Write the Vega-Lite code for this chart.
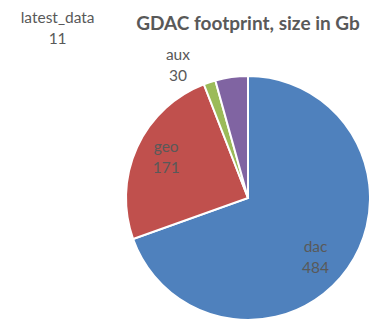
{
  "$schema": "https://vega.github.io/schema/vega-lite/v6.json",
  "autosize": {"type": "none"},
  "width": 248,
  "height": 244,
  "padding": {"left": 124, "top": 76, "right": 0, "bottom": 0},
  "background": "white",
  "title": {
    "text": "GDAC footprint, size in Gb",
    "anchor": "middle",
    "frame": "group",
    "offset": -23,
    "font": "Lato",
    "fontSize": 19,
    "fontWeight": "bold",
    "color": "#595959"
  },
  "data": {
    "values": [
      {"category": "dac", "value": 484, "rank": 1},
      {"category": "geo", "value": 171, "rank": 2},
      {"category": "latest_data", "value": 11, "rank": 3},
      {"category": "aux", "value": 30, "rank": 4}
    ]
  },
  "encoding": {
    "theta": {"field": "value", "type": "quantitative", "stack": true},
    "order": {"field": "rank", "type": "quantitative"}
  },
  "layer": [
    {
      "mark": {"type": "arc", "outerRadius": 122, "stroke": "white", "strokeWidth": 2},
      "encoding": {
        "color": {
          "field": "category",
          "type": "nominal",
          "scale": {
            "domain": ["dac", "geo", "latest_data", "aux"],
            "range": ["#4F81BD", "#C0504D", "#9BBB59", "#8064A2"]
          },
          "legend": null
        }
      }
    },
    {
      "mark": {
        "type": "text",
        "font": "Lato",
        "fontSize": 15.5,
        "color": "#595959",
        "radius": {"expr": "datum.category == 'dac' ? 90 : datum.category == 'geo' ? 90 : datum.category == 'aux' ? 134 : 179"},
        "dx": {"expr": "datum.category == 'dac' ? -6 : datum.category == 'aux' ? -52 : datum.category == 'latest_data' ? -134 : 0"},
        "dy": {"expr": "datum.category == 'dac' ? -3 : datum.category == 'geo' ? -14 : -10"}
      },
      "encoding": {"text": {"field": "category", "type": "nominal"}}
    },
    {
      "mark": {
        "type": "text",
        "font": "Lato",
        "fontSize": 15.5,
        "color": "#595959",
        "radius": {"expr": "datum.category == 'dac' ? 90 : datum.category == 'geo' ? 90 : datum.category == 'aux' ? 134 : 179"},
        "dx": {"expr": "datum.category == 'dac' ? -6 : datum.category == 'aux' ? -52 : datum.category == 'latest_data' ? -134 : 0"},
        "dy": {"expr": "datum.category == 'dac' ? 18 : datum.category == 'geo' ? 7 : 11"}
      },
      "encoding": {"text": {"field": "value", "type": "quantitative"}}
    }
  ]
}
